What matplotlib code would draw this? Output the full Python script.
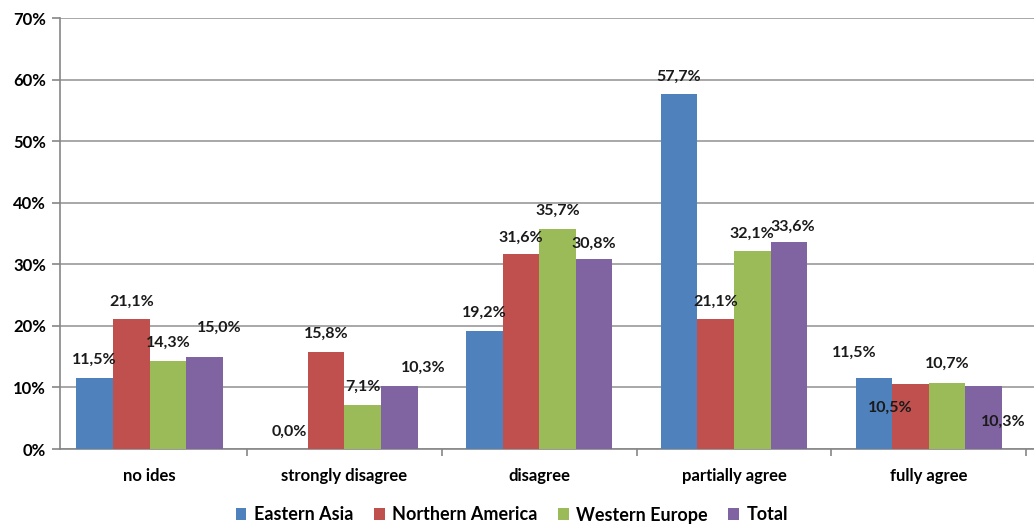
import matplotlib
import matplotlib.pyplot as plt
import numpy as np

matplotlib.use('Agg')

categories = ['no ides', 'strongly disagree', 'disagree', 'partially agree', 'fully agree']
series_names = ['Eastern Asia', 'Northern America', 'Western Europe', 'Total']
eastern_asia = [11.5, 0.0, 19.2, 57.7, 11.5]
northern_america = [21.1, 15.8, 31.6, 21.1, 10.5]
western_europe = [14.3, 7.1, 35.7, 32.1, 10.7]
total = [15.0, 10.3, 30.8, 33.6, 10.3]

colors = ['#4F81BD', '#C0504D', '#9BBB59', '#8064A2']

# label offsets in pixels (dx, dy from bar top), the way the original places them
label_offsets = [
    [(0, 18), (0, 17), (0, 18), (0, 17), (-20, 25)],
    [(0, 17), (0, 18), (0, 17), (0, 17), (-20, -23)],
    [(0, 18), (0, 18), (0, 18), (0, 18), (0, 19)],
    [(15, 29), (24, 18), (0, 16), (4, 15), (20, -36)],
]

plt.rcParams['font.family'] = ['Lato', 'DejaVu Sans']
plt.rcParams['font.weight'] = 'bold'

fig = plt.figure(figsize=(10.34, 5.25), dpi=100)
ax = fig.add_axes([60 / 1034, 1 - 449 / 525, 1 - 60 / 1034, (449 - 18) / 525])

x = np.arange(len(categories))
width = 0.188
all_series = [eastern_asia, northern_america, western_europe, total]
for i, (name, vals) in enumerate(zip(series_names, all_series)):
    pos = x + (i - 1.5) * width
    ax.bar(pos, vals, width, color=colors[i], label=name, zorder=3)
    for j, v in enumerate(vals):
        dx, dy = label_offsets[i][j]
        ax.annotate(f'{v:.1f}%'.replace('.', ','), (pos[j], v),
                    xytext=(dx * 0.72, dy * 0.72), textcoords='offset points',
                    ha='center', va='center', fontsize=11.5, fontweight='bold',
                    color='#1a1a1a', zorder=5)

ax.set_ylim(0, 70)
ax.set_xlim(-0.46, len(categories) - 0.46)
ax.set_yticks(np.arange(0, 71, 10))
ax.set_yticklabels([f'{t}%' for t in range(0, 71, 10)])
ax.set_xticks(x)
ax.set_xticklabels(categories)
ax.set_xticks(np.arange(0.5, len(categories), 1), minor=True)
ax.tick_params(axis='x', which='major', length=0, pad=14, labelsize=12)
ax.tick_params(axis='x', which='minor', length=5, color='#868686', width=1.2)
ax.tick_params(axis='y', length=6, color='#868686', width=1.2, labelsize=12, pad=4)
ax.yaxis.grid(True, color='#9a9a9a', linewidth=1.2, zorder=0)

for s in ['top', 'right']:
    ax.spines[s].set_visible(False)
for s in ['left', 'bottom']:
    ax.spines[s].set_color('#868686')
    ax.spines[s].set_linewidth(1.2)

fig.legend(loc='center', bbox_to_anchor=(0.495, 1 - 515 / 525), ncol=4, frameon=False,
           fontsize=13, handlelength=0.6, handleheight=0.6, handletextpad=0.4,
           columnspacing=1.15)

fig.savefig('out.png', dpi=100)
